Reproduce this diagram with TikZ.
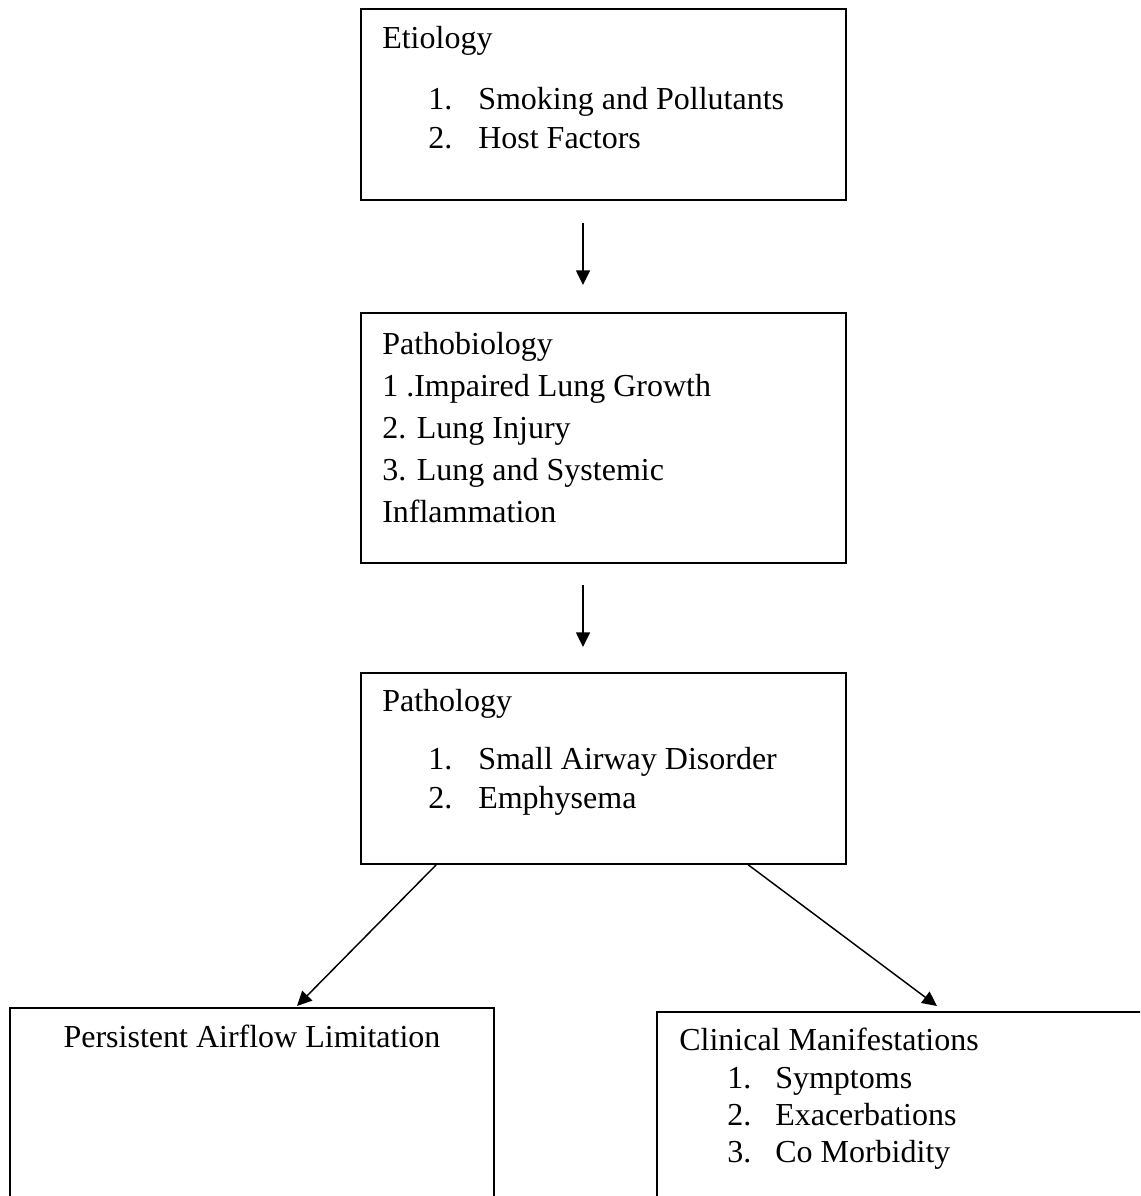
\documentclass[tikz,border=0pt]{standalone}
\usepackage{fontspec}
\setmainfont{Liberation Serif}
\usetikzlibrary{arrows.meta,fit,calc}
\tikzset{
  box/.style={draw=black, line width=1.2pt, inner sep=0pt, fill=none},
  txt/.style={anchor=base west, inner sep=0pt, font=\fontsize{24pt}{28pt}\selectfont},
  ctxt/.style={anchor=base, inner sep=0pt, font=\fontsize{24pt}{28pt}\selectfont},
  arr/.style={line width=1.1pt, -{Triangle[length=11pt,width=10.5pt]}}
}
\begin{document}
\begin{tikzpicture}[x=0.75pt,y=-0.75pt]
\useasboundingbox (0,0) rectangle (1140,1196);
\clip (0,0) rectangle (1140,1196);
\fill[white] (0,0) rectangle (1140,1196);
% boxes
\node[box, fit={(361,9) (846,200)}] (etio) {};
\node[box, fit={(361,313) (846,563)}] (pbio) {};
\node[box, fit={(361,673) (846,864)}] (path) {};
\node[box, fit={(10,1008) (494,1240)}] (pal) {};
\node[box, fit={(657,1012) (1180,1240)}] (clin) {};
% texts box 1
\node[txt] (t1a) at (382,48) {Etiology};
\node[txt] (t1b) at (428,109) {1.};
\node[txt] (t1c) at (478,109) {Smoking and Pollutants};
\node[txt] (t1d) at (428,148) {2.};
\node[txt] (t1e) at (478,148) {Host Factors};
% texts box 2
\node[txt] (t2a) at (382,354) {Pathobiology};
\node[txt] (t2b) at (382,396) {1 .Impaired Lung Growth};
\node[txt] (t2c) at (382,438) {2. Lung Injury};
\node[txt] (t2d) at (382,480) {3. Lung and Systemic};
\node[txt] (t2e) at (382,522) {Inflammation};
% texts box 3
\node[txt] (t3a) at (382,711) {Pathology};
\node[txt] (t3b) at (428,769) {1.};
\node[txt] (t3c) at (478,769) {Small Airway Disorder};
\node[txt] (t3d) at (428,808) {2.};
\node[txt] (t3e) at (478,808) {Emphysema};
% box 4
\node[ctxt] (t4a) at (252,1047) {Persistent Airflow Limitation};
% box 5
\node[txt] (t5a) at (679,1050) {Clinical Manifestations};
\node[txt] (t5b) at (727,1088) {1.};
\node[txt] (t5c) at (775,1088) {Symptoms};
\node[txt] (t5d) at (727,1125) {2.};
\node[txt] (t5e) at (775,1125) {Exacerbations};
\node[txt] (t5f) at (727,1162) {3.};
\node[txt] (t5g) at (775,1162) {Co Morbidity};
% arrow endpoints
\coordinate (a1s) at (583,223);
\coordinate (a1e) at (583,285);
\coordinate (a2s) at (583,585);
\coordinate (a2e) at (583,647);
\coordinate (a3s) at ($(path.south west)+(76,0)$);
\coordinate (a3e) at (297,1006);
\coordinate (a4s) at ($(path.south west)+(388,0)$);
\coordinate (a4e) at (937,1006);
\draw[arr] (a1s) -- (a1e);
\draw[arr] (a2s) -- (a2e);
\draw[arr] (a3s) -- (a3e);
\draw[arr] (a4s) -- (a4e);
\end{tikzpicture}
\end{document}
